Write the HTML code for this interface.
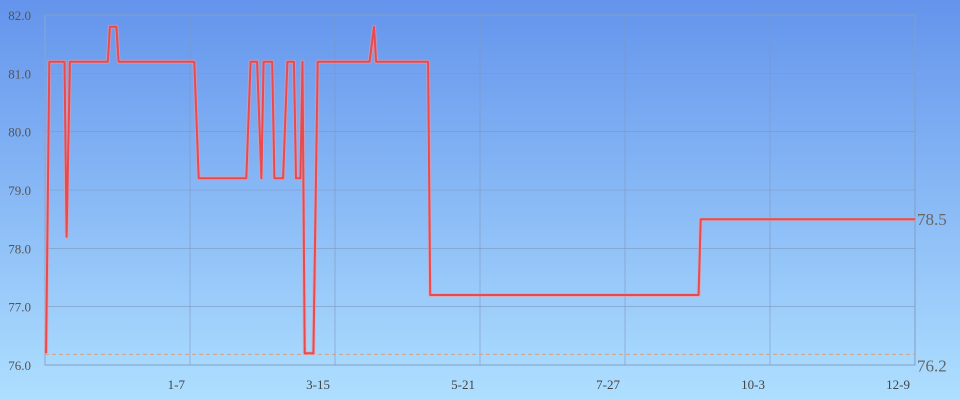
<!DOCTYPE html>
<html><head><meta charset="utf-8"><style>
html,body{margin:0;padding:0;width:960px;height:400px;overflow:hidden}
body{background:linear-gradient(#6494ec,#aedfff);font-family:"Liberation Serif",serif}
svg{display:block}
</style></head><body>
<svg id="chart" width="960" height="400" xmlns="http://www.w3.org/2000/svg"></svg>
<script>
const days=[0.5,2,9,10,11.5,29,30,33,34,69,71,93,95,98,100,101,105,106,110,112,115,116,118,119,120,124,126,150,152,153,177,178,302,303,402];
const values=[76.2,81.2,81.2,78.2,81.2,81.2,81.8,81.8,81.2,81.2,79.2,79.2,81.2,81.2,79.2,81.2,81.2,79.2,79.2,81.2,81.2,79.2,79.2,81.2,76.2,76.2,81.2,81.2,81.8,81.2,81.2,77.2,77.2,78.5,78.5];
const yTicks=[76,77,78,79,80,81,82];
const xTickDays=[67,134,201,268,335,402];
const xTickLabels=["1-7","3-15","5-21","7-27","10-3","12-9"];
const minVal=76.2, lastVal=78.5;
const L=45,R=915,T=15,B=365,maxDay=402;
const xs=d=>L+(R-L)*d/maxDay;
const ys=v=>B-(B-T)*(v-76)/6;
const svg=document.getElementById('chart');
const NS='http://www.w3.org/2000/svg';
function mk(tag,attrs,txt){const e=document.createElementNS(NS,tag);for(const k in attrs)e.setAttribute(k,attrs[k]);if(txt!==undefined)e.textContent=txt;svg.appendChild(e);return e;}
let e=mk('rect',{x:L,y:T,width:R-L,height:B-T,fill:'none',stroke:'#8aa6cc','stroke-width':1});


yTicks.forEach(v=>{
 let g=mk('line',{x1:L,x2:R,y1:ys(v),y2:ys(v),stroke:'#7f98bd','stroke-width':0.6});
 
 
 let t=mk('text',{x:31,y:ys(v)+5,'font-size':13,fill:'#555','text-anchor':'end'},v.toFixed(1));
 
 
});
xTickDays.forEach((d,i)=>{
 let g=mk('line',{x1:xs(d),x2:xs(d),y1:T,y2:B,stroke:'#7f98bd','stroke-width':0.6});
 
 
 let t=mk('text',{x:xs(d)-5,y:389,'font-size':13,fill:'#444','text-anchor':'end'},xTickLabels[i]);
 
 
});
let dl=mk('line',{x1:L,x2:R,y1:ys(minVal)+1,y2:ys(minVal)+1,stroke:'#d8a080','stroke-width':1,'stroke-dasharray':'4,3'});


const pts=days.map((d,i)=>xs(d).toFixed(1)+','+ys(values[i]).toFixed(1)).join(' ');
let sh=mk('polyline',{points:pts,fill:'none',stroke:'rgba(255,150,150,0.55)','stroke-width':4,'stroke-linejoin':'round'});


let pl=mk('polyline',{points:pts,fill:'none',stroke:'#e84a4e','stroke-width':2,'stroke-linejoin':'round'});


let l1=mk('text',{x:917,y:ys(lastVal)+6,'font-size':17,fill:'#666'},lastVal.toFixed(1));


let l2=mk('text',{x:917,y:ys(minVal)+18,'font-size':17,fill:'#666'},minVal.toFixed(1));


</script>
</body></html>
